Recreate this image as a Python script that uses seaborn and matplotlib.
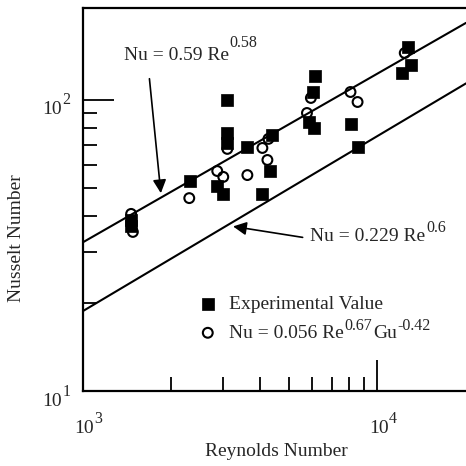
import matplotlib
matplotlib.use("Agg")
import matplotlib.pyplot as plt
import seaborn as sns
import pandas as pd

# ---- data ----
exp_re = [1460, 1460, 2317, 2862, 2990, 3097, 3097, 3097, 3622, 4073, 4336, 4404,
          6166, 6026, 5885, 6100, 8110, 8570, 12680, 12970, 12100]
exp_nu = [38.7, 36.9, 52.7, 50.6, 47.7, 100.0, 77.0, 71.2, 68.9, 47.7, 57.0, 75.8,
          120.9, 106.5, 84.0, 80.1, 82.7, 68.9, 152.0, 131.9, 123.8]

corr_re = [1460, 1480, 2300, 2862, 3000, 3097, 3622, 4073, 4236, 4270, 5770, 5950,
           8110, 8570, 12390]
corr_nu = [40.6, 35.2, 46.0, 57.0, 54.4, 67.9, 55.2, 68.4, 62.2, 73.5, 90.2, 101.6,
           106.5, 98.4, 145.0]

line_re = [1000, 20000]
nu_upper = [32.4, 184.0]   # Nu = 0.59 Re^0.58
nu_lower = [18.8, 114.0]   # Nu = 0.229 Re^0.6 (as drawn)

x_major = [1e3, 1e4]
x_major_exp = ["3", "4"]
x_minor = [2000, 3000, 4000, 5000, 6000, 7000, 8000, 9000]
y_major = [10, 100]
y_major_exp = ["1", "2"]
y_minor = [20, 30, 40, 50, 60, 70, 80, 90]

exp_df = pd.DataFrame({"Re": exp_re, "Nu": exp_nu})
corr_df = pd.DataFrame({"Re": corr_re, "Nu": corr_nu})
upper_df = pd.DataFrame({"Re": line_re, "Nu": nu_upper})
lower_df = pd.DataFrame({"Re": line_re, "Nu": nu_lower})

sns.set_style("white")
plt.rcParams["font.family"] = ["Liberation Serif", "DejaVu Serif"]

FS = 14
SFS = 11.5
DPI = 100
fig = plt.figure(figsize=(4.66, 4.66), dpi=DPI)
ax = fig.add_axes([82.7 / 466, 1 - 391 / 466, 383.3 / 466, 383 / 466])

sns.lineplot(data=upper_df, x="Re", y="Nu", color="black", lw=1.5, ax=ax, zorder=2)
sns.lineplot(data=lower_df, x="Re", y="Nu", color="black", lw=1.5, ax=ax, zorder=2)
sns.scatterplot(data=exp_df, x="Re", y="Nu", marker="s", s=70, color="black",
                edgecolor="black", linewidth=0.5, ax=ax, zorder=3,
                label="Experimental Value")
sns.scatterplot(data=corr_df, x="Re", y="Nu", marker="o", s=50, facecolor="none",
                edgecolor="black", linewidth=1.5, ax=ax, zorder=4,
                label="Nu = 0.056 Re")

ax.set_xscale("log")
ax.set_yscale("log")
ax.set_xlim(1000, 20000)
ax.set_ylim(10, 207)

ax.set_xticks(x_major)
ax.set_xticks(x_minor, minor=True)
ax.set_yticks(y_major)
ax.set_yticks(y_minor, minor=True)
ax.set_xticklabels([])
ax.set_xticklabels([], minor=True)
ax.set_yticklabels([])
ax.set_yticklabels([], minor=True)

ax.tick_params(which="both", bottom=True, left=True, top=False, right=False,
               direction="in", color="black", width=1.3)
ax.tick_params(which="major", length=22)
ax.tick_params(which="minor", length=10)

for side in ["left", "bottom", "top"]:
    ax.spines[side].set_visible(True)
    ax.spines[side].set_linewidth(1.6)
    ax.spines[side].set_color("black")
ax.spines["right"].set_visible(False)


def sup_after(base, text, raise_px, gap_px=0.5, size=SFS):
    """Place a superscript just after `base`, raised above its bbox bottom."""
    return ax.annotate(text, xy=(1, 0), xycoords=(base, base),
                       xytext=(gap_px, raise_px), textcoords="offset pixels",
                       ha="left", va="baseline", fontsize=size,
                       annotation_clip=False, zorder=8)


# tick labels ("10" with exponent)
for xv, e in zip(x_major, x_major_exp):
    b = ax.annotate("10", xy=(xv, 0), xycoords=("data", "axes fraction"),
                    xytext=(1.5, -42), textcoords="offset pixels",
                    ha="center", va="baseline", fontsize=FS, annotation_clip=False)
    sup_after(b, e, 14)
for yv, e in zip(y_major, y_major_exp):
    b = ax.annotate("10", xy=(0, yv), xycoords=("axes fraction", "data"),
                    xytext=(-21, -14.5), textcoords="offset pixels",
                    ha="right", va="baseline", fontsize=FS, annotation_clip=False)
    sup_after(b, e, 14)

ax.set_xlabel("Reynolds Number", fontsize=FS)
ax.set_ylabel("Nusselt Number", fontsize=FS)
ax.xaxis.set_label_coords(0.504, -0.136)
ax.yaxis.set_label_coords(-0.150, 0.40)

# annotations
t1 = ax.text(1382, 137.3, "Nu = 0.59 Re", fontsize=FS, ha="left", va="baseline")
sup_after(t1, "0.58", 17)
ax.annotate("", xy=(1846, 46.8), xytext=(1681, 120.9),
            arrowprops=dict(arrowstyle="-|>", color="black", lw=1.2, mutation_scale=20))
t2 = ax.text(5929, 32.8, "Nu = 0.229 Re", fontsize=FS, ha="left", va="baseline")
sup_after(t2, "0.6", 13)
ax.annotate("", xy=(3170, 36.9), xytext=(5700, 33.6),
            arrowprops=dict(arrowstyle="-|>", color="black", lw=1.2, mutation_scale=20))

leg = ax.legend(loc="upper left", bbox_to_anchor=(200 / 466, 1 - 295 / 466),
                bbox_transform=fig.transFigure, frameon=False, fontsize=FS,
                handlelength=0.8, handletextpad=0.7, labelspacing=0.6,
                borderpad=0, borderaxespad=0)
leg.set_zorder(5)
lt = leg.get_texts()[1]
s1 = sup_after(lt, "0.67", 12)
gu = ax.annotate("Gu", xy=(1, 0), xycoords=(s1, lt), xytext=(1, 4),
                 textcoords="offset pixels", ha="left", va="baseline",
                 fontsize=FS, annotation_clip=False, zorder=9)
g2 = sup_after(gu, "-0.42", 12)
g2.set_zorder(10)

fig.savefig("out.png", dpi=DPI)
